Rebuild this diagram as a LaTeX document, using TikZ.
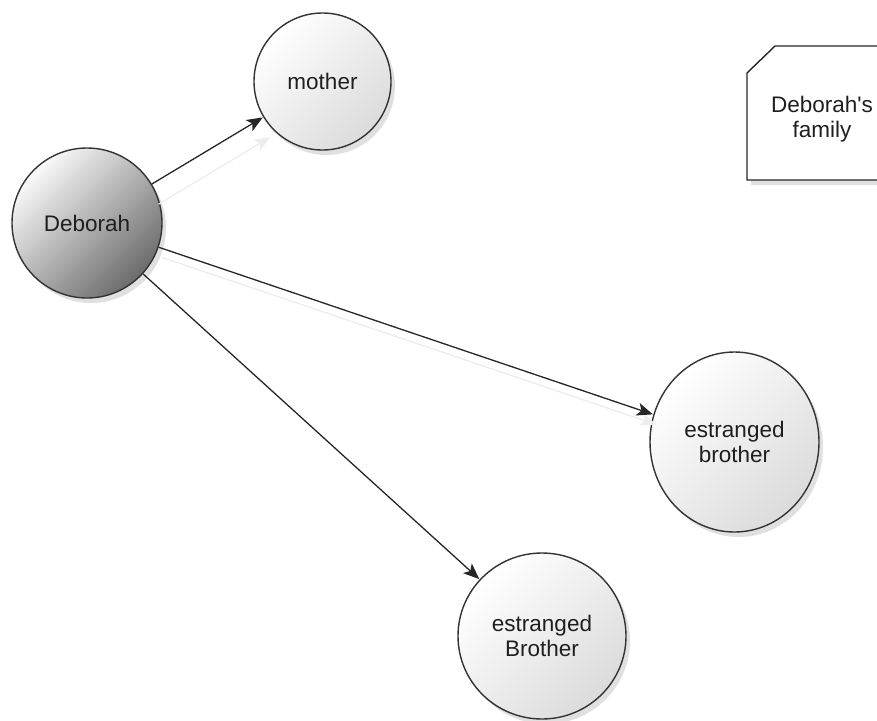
\documentclass[tikz,border=0pt]{standalone}
\usepackage{fontspec}
\setmainfont{Liberation Sans}
\usetikzlibrary{shapes.geometric,arrows.meta,shadows}
\begin{document}
\begin{tikzpicture}[x=1pt,y=1pt,
  every node/.style={font=\fontsize{22.5}{25.5}\selectfont, text=black!88, align=center},
  nshadow/.style={drop shadow={shadow xshift=4pt, shadow yshift=-5pt, opacity=0.12, fill=black}},
  person/.style={circle, draw=black!80, line width=1.4pt, inner sep=0pt,
    top color=white, bottom color=black!14, shading angle=45, nshadow},
  personel/.style={ellipse, draw=black!80, line width=1.4pt, inner sep=0pt,
    top color=white, bottom color=black!14, shading angle=45, nshadow},
  mainperson/.style={person, top color=black!2, bottom color=black!58, shading angle=45},
  rel/.style={draw=black!85, line width=1.3pt, -{Stealth[length=16pt,width=13pt,inset=4pt]}, shorten >=0.5pt},
  relshadow/.style={draw=black!7, line width=1.3pt, -{Stealth[length=16pt,width=13pt,inset=4pt]}},
  notebox/.style={draw=black!85, line width=1.4pt, fill=white, nshadow}
]
\useasboundingbox (0,0) rectangle (877,-720);

% note
\path[notebox] (747,-73) -- (775,-46) -- (885,-46) -- (885,-180) -- (747,-180) -- cycle;
\node (note) at (822,-119) {Deborah\textquotesingle s\\family};

% nodes
\node[mainperson, minimum size=150pt] (deb) at (87,-223) {Deborah};
\node[person, minimum size=137pt] (mom) at (322.5,-81.5) {mother};
\node[personel, minimum width=169pt, minimum height=180pt] (bro) at (734.5,-442) {estranged\\brother};
\node[personel, minimum width=168pt, minimum height=166pt] (bro2) at (542,-636) {estranged\\Brother};

% connector shadows
\draw[relshadow, transform canvas={shift={(7pt,-20pt)}}] (deb) -- (mom);
\draw[relshadow, transform canvas={shift={(3pt,-10pt)}}] (deb) -- (bro);

% connectors
\draw[rel] (deb) -- (mom);
\draw[rel] (deb) -- (bro);
\draw[rel] (deb) -- (bro2);
\end{tikzpicture}
\end{document}
